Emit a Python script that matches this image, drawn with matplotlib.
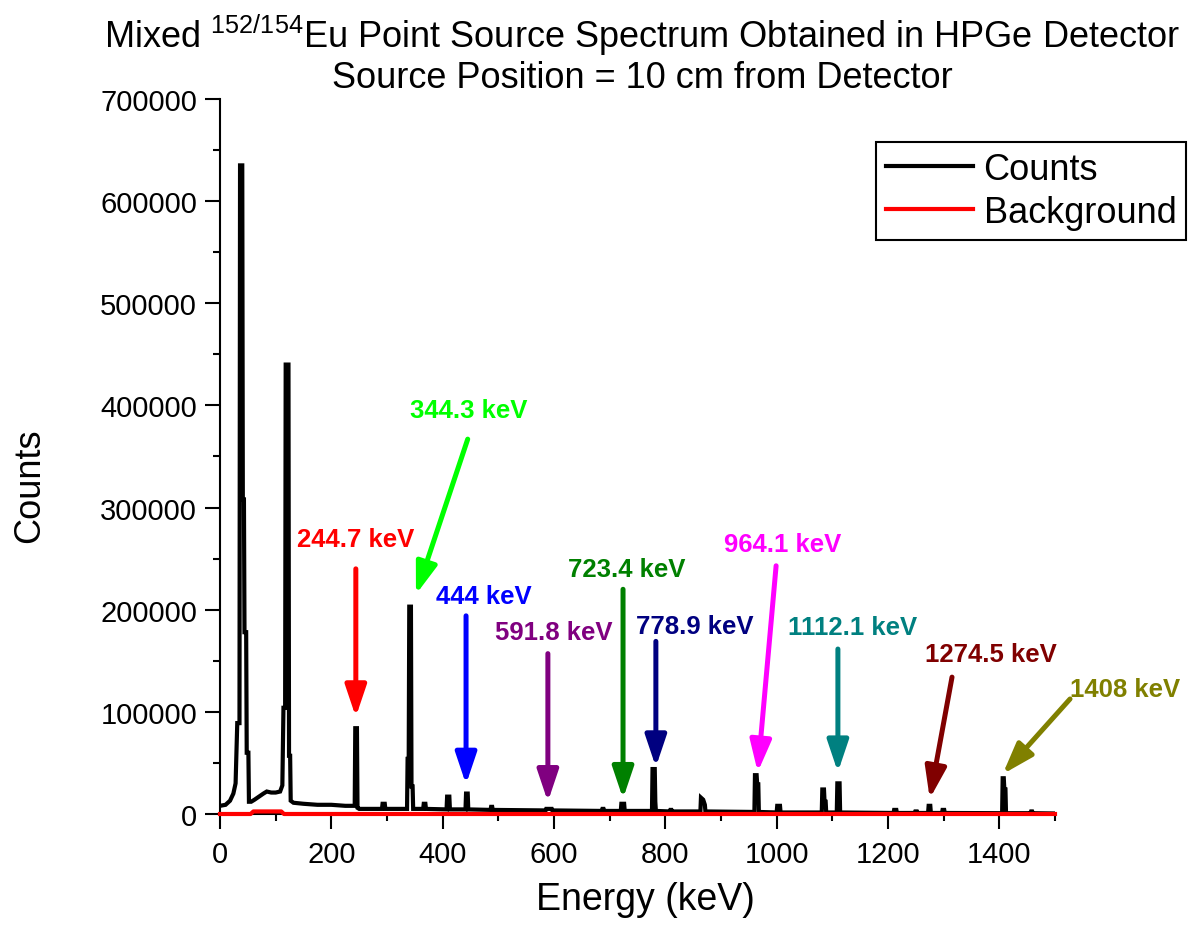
import matplotlib
matplotlib.use("Agg")
import matplotlib.pyplot as plt
from matplotlib.ticker import MultipleLocator, FixedLocator

plt.rcParams['font.family'] = ['Liberation Sans', 'DejaVu Sans']
plt.rcParams['mathtext.default'] = 'regular'

# ---------------- data ----------------
# measured spectrum (polyline vertices), energy in keV
spec_energy = [
    0, 10, 18, 24, 28, 31, 35, 36, 37, 40, 41, 43, 44, 47, 48, 51, 52, 56,
    62, 70, 78, 84, 92, 100, 108, 112, 114, 117, 118, 123, 124, 126, 127, 132,
    150, 175, 200, 225, 242, 243, 246, 247, 250,
    291, 292, 296, 297,
    336, 337, 339, 340, 343, 344, 346, 347,
    365, 366, 369, 370,
    407, 408, 412, 413,
    441, 442, 445, 446,
    486, 487, 489, 490,
    585, 586, 596, 597,
    686, 687, 689, 690,
    720, 721, 726, 727,
    776, 777, 781, 782, 783,
    808, 809, 811, 812,
    863, 864, 868, 871, 872,
    960, 961, 964, 965, 967, 968,
    1000, 1001, 1006, 1007,
    1081, 1082, 1085, 1086, 1088, 1089,
    1108, 1109, 1113, 1114,
    1210, 1211, 1215, 1216,
    1248, 1249, 1252, 1253,
    1272, 1273, 1276, 1277,
    1297, 1298, 1301, 1302,
    1405, 1406, 1408, 1409, 1411, 1412,
    1456, 1457, 1459, 1460,
    1500,
]
spec_counts = [
    8000, 9000, 13000, 20000, 30000, 89000, 89000, 635000, 635000, 635000,
    308000, 308000, 178000, 178000, 60000, 60000, 12000, 12000,
    14000, 17000, 20000, 22000, 21000, 21000, 22000, 28000, 104000, 104000,
    440000, 440000, 57000, 57000, 13000, 11000,
    10000, 9000, 9000, 8000, 8000, 84000, 84000, 6000, 5000,
    5000, 10000, 10000, 5000,
    5000, 54000, 54000, 203000, 203000, 27000, 27000, 5000,
    5000, 10000, 10000, 5000,
    4500, 17000, 17000, 4500,
    4500, 20000, 20000, 4500,
    4000, 7000, 7000, 4000,
    3500, 5000, 5000, 3500,
    3000, 5000, 5000, 3000,
    3000, 10000, 10000, 3000,
    3000, 44000, 44000, 12000, 3000,
    2500, 4000, 4000, 2500,
    2500, 16000, 14000, 9000, 2500,
    2000, 38000, 38000, 29000, 29000, 2000,
    1500, 8000, 8000, 1500,
    1500, 24000, 24000, 12000, 12000, 1500,
    1500, 30000, 30000, 1500,
    1000, 4000, 4000, 1000,
    1000, 2500, 2500, 1000,
    1000, 8000, 8000, 1000,
    1000, 4000, 4000, 1000,
    800, 35000, 35000, 24000, 24000, 800,
    800, 2500, 2500, 800,
    500,
]

# background spectrum
bg_energy = [0, 55, 60, 110, 115, 1500]
bg_counts = [0, 0, 2500, 2500, 0, 0]

# labelled peaks
peak_labels = ["244.7 keV", "344.3 keV", "444 keV", "591.8 keV", "723.4 keV",
               "778.9 keV", "964.1 keV", "1112.1 keV", "1274.5 keV", "1408 keV"]

x_ticks = [0, 200, 400, 600, 800, 1000, 1200, 1400]
y_ticks = [0, 100000, 200000, 300000, 400000, 500000, 600000, 700000]

# ---------------- annotation layout (positions / styles) ----------------
ann_colors = ["#FF0000", "#00FF00", "#0000FF", "#800080", "#008000",
              "#000080", "#FF00FF", "#008080", "#800000", "#808000"]
# (text x, text y, arrow start x, start y, arrow tip x, tip y) in data units
ann_layout = [
    (244, 269000, 244, 240000, 244, 95000),
    (447, 396000, 445, 367000, 352, 215000),
    (474, 213000, 442, 194000, 442, 29000),
    (600, 178000, 589, 157000, 589, 12000),
    (731, 240000, 724, 220000, 724, 15000),
    (853, 184000, 783, 169000, 783, 46000),
    (1011, 264000, 999, 243000, 966, 41000),
    (1137, 183000, 1110, 161500, 1110, 41000),
    (1385, 157000, 1315, 134000, 1275, 15000),
    (1626, 122000, 1527, 112600, 1406, 39000),
]

# ---------------- figure ----------------
fig = plt.figure(figsize=(11.89, 9.45), dpi=100)
ax = fig.add_axes([0.18503, 0.13757, 0.70227, 0.75661])

ax.plot(spec_energy, spec_counts, color='black', lw=3.0, label='Counts',
        solid_joinstyle='miter', zorder=3)
ax.plot(bg_energy, bg_counts, color='red', lw=3.0, label='Background',
        zorder=4, clip_on=False)

ax.set_xlim(0, 1500)
ax.set_ylim(0, 700000)

for s in ['top', 'right']:
    ax.spines[s].set_visible(False)
for s in ['left', 'bottom']:
    ax.spines[s].set_linewidth(1.5)

ax.xaxis.set_major_locator(FixedLocator(x_ticks))
ax.xaxis.set_minor_locator(MultipleLocator(100))
ax.yaxis.set_major_locator(FixedLocator(y_ticks))
ax.yaxis.set_minor_locator(MultipleLocator(50000))
ax.set_yticklabels([str(v) for v in y_ticks])
ax.set_xticklabels([str(v) for v in x_ticks])
ax.tick_params(which='major', direction='out', length=10.5, width=1.5,
               labelsize=21, pad=6)
ax.tick_params(which='minor', direction='out', length=5, width=1.5)
ax.tick_params(axis='x', which='major', pad=8)

ax.set_xlabel('Energy (keV)', fontsize=27)
ax.xaxis.set_label_coords(0.51, -0.094)
ax.set_ylabel('Counts', fontsize=26)
ax.yaxis.set_label_coords(-0.207, 0.46)

fig.text(0.54, 0.949, r'Mixed $^{152/154}$Eu Point Source Spectrum Obtained in HPGe Detector',
         ha='center', va='baseline', fontsize=26)
fig.text(0.54, 0.907, 'Source Position = 10 cm from Detector',
         ha='center', va='baseline', fontsize=26)

for lab, col, (tx, ty, sx, sy, ex, ey) in zip(peak_labels, ann_colors, ann_layout):
    ax.annotate('', xy=(ex, ey), xytext=(sx, sy),
                arrowprops=dict(arrowstyle='-|>,head_length=0.95,head_width=0.32',
                                lw=3.6, color=col, mutation_scale=20,
                                shrinkA=0, shrinkB=0),
                annotation_clip=False, zorder=5)
    ax.text(tx, ty, lab, color=col, fontsize=18.5, fontweight='bold',
            ha='center', va='center', clip_on=False, zorder=6)

leg = ax.legend(loc='upper left', bbox_to_anchor=(876 / 1189, 1 - 143 / 945),
                bbox_transform=fig.transFigure, fontsize=26, frameon=True,
                fancybox=False, edgecolor='black', framealpha=1,
                handlelength=2.4, handletextpad=0.3, borderpad=0.28,
                labelspacing=0.22, borderaxespad=0)
leg.get_frame().set_linewidth(1.5)
for line in leg.get_lines():
    line.set_linewidth(3.0)

fig.savefig('out.png', dpi=100)
